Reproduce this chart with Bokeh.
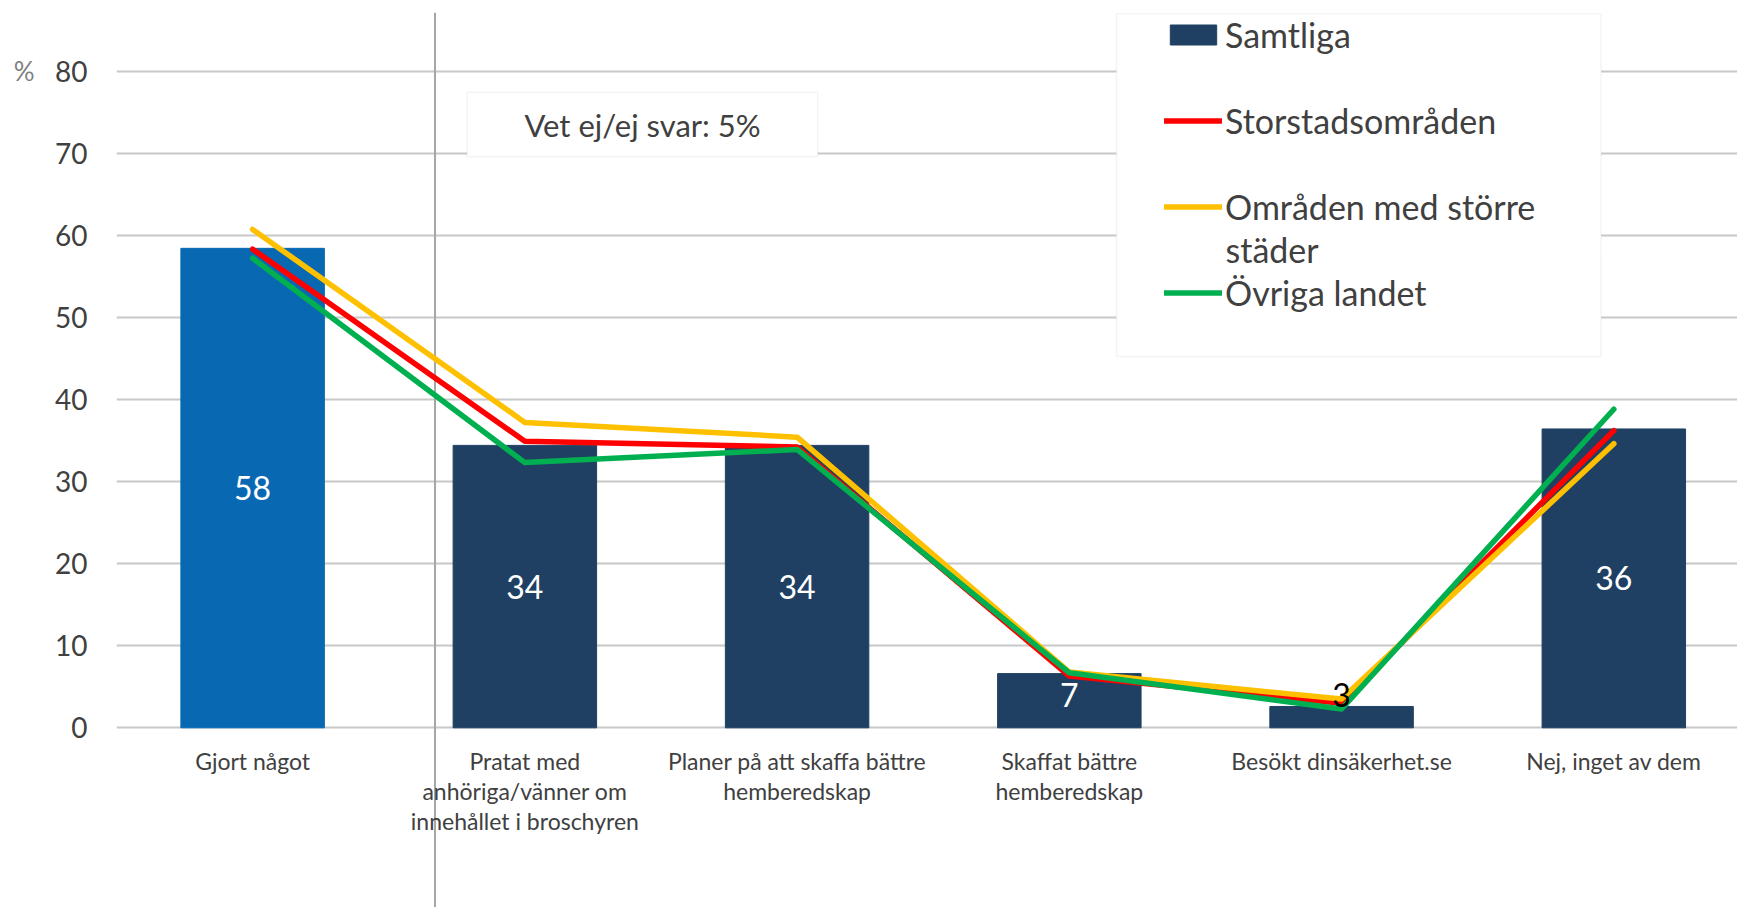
import numpy as np
from bokeh.plotting import figure
from bokeh.models import (Range1d, FixedTicker, Legend, LegendItem, Label, LinearAxis,
                          BoxAnnotation, ColumnDataSource, LabelSet)
from bokeh.core.properties import value
from bokeh.embed import file_html
from bokeh.resources import INLINE

# ---------------- data ----------------
categories = ["Gjort något",
              "Pratat med\nanhöriga/vänner om\ninnehållet i broschyren",
              "Planer på att skaffa bättre\nhemberedskap",
              "Skaffat bättre\nhemberedskap",
              "Besökt dinsäkerhet.se",
              "Nej, inget av dem"]
samtliga = [58.4, 34.4, 34.4, 6.6, 2.6, 36.4]
storstad = [58.3, 34.9, 34.2, 6.3, 3.0, 36.2]
omraden = [60.7, 37.2, 35.4, 6.8, 3.5, 34.6]
ovriga = [57.2, 32.3, 33.9, 6.7, 2.3, 38.8]
y_ticks = [0, 10, 20, 30, 40, 50, 60, 70, 80]
series_names = ["Samtliga", "Storstadsområden", "Områden med större\nstäder", "Övriga landet"]
note_text = "Vet ej/ej svar: 5%"
unit_label = "%"

# ---------------- layout helpers ----------------
W, H = 1737, 907
FRAME_LEFT = 116
PITCH = 272.24          # px per category
PX_PER_UNIT = 8.21      # px per percent
Y0 = 727.3              # page-y of value 0

def px_x(ref_x):
    return -0.5 + (ref_x - FRAME_LEFT) / PITCH

def px_y(ref_y):
    return (Y0 - ref_y) / PX_PER_UNIT

FONT = "Lato"
TXT = "#404040"

idx = list(range(len(categories)))
x_end = -0.5 + (W - FRAME_LEFT) / PITCH
y_end = Y0 / PX_PER_UNIT
y_start = (Y0 - H) / PX_PER_UNIT

p = figure(width=W, height=H, output_backend="svg", toolbar_location=None,
           x_range=Range1d(-0.5, x_end), y_range=Range1d(y_start, y_end),
           min_border_left=FRAME_LEFT, min_border_right=0, min_border_top=0,
           min_border_bottom=0)
p.outline_line_color = None
p.background_fill_color = "white"

# divider line
p.segment(x0=[0.67], y0=[px_y(12.3)], x1=[0.67], y1=[y_start], line_color="#A6A6A6",
          line_width=2)

bar_colors = ["#0868B2"] + ["#1F4063"] * (len(categories) - 1)
src = ColumnDataSource(dict(x=idx, top=samtliga, color=bar_colors))
bars = p.vbar(x="x", top="top", width=0.527, color="color", source=src)

LW = 5.5
r1 = p.line(idx, storstad, line_color="#FF0000", line_width=LW, line_cap="round", line_join="round")
r2 = p.line(idx, omraden, line_color="#FFC000", line_width=LW, line_cap="round", line_join="round")
r3 = p.line(idx, ovriga, line_color="#00B050", line_width=LW, line_cap="round", line_join="round")

# data labels
lab_y = list(np.maximum(np.array(samtliga) / 2, 4.0))
lab_txt = [f"{v:.0f}" for v in samtliga]
lab_col = ["white", "white", "white", "white", "black", "white"]
lsrc = ColumnDataSource(dict(x=idx, y=lab_y, text=lab_txt, color=lab_col))
p.add_layout(LabelSet(x="x", y="y", text="text", source=lsrc, text_color="color",
                      text_font=value(FONT), text_font_size="32px", text_align="center",
                      text_baseline="middle"))

# axes
p.xaxis.ticker = FixedTicker(ticks=idx)
p.xaxis.major_label_overrides = {i: c for i, c in enumerate(categories)}
p.xaxis.fixed_location = 0
p.xaxis.axis_line_color = None
p.xaxis.major_tick_line_color = None
p.xaxis.minor_tick_line_color = None
p.xaxis.major_label_text_font = FONT
p.xaxis.major_label_text_font_size = "23px"
p.xaxis.major_label_text_color = TXT
p.xaxis.major_label_text_line_height = 1.08
p.xaxis.major_label_standoff = 13

p.yaxis.ticker = FixedTicker(ticks=y_ticks)
p.yaxis.axis_line_color = None
p.yaxis.major_tick_line_color = None
p.yaxis.minor_tick_line_color = None
p.yaxis.major_tick_out = 0
p.yaxis.major_label_standoff = 29
p.yaxis.major_label_text_font = FONT
p.yaxis.major_label_text_font_size = "28px"
p.yaxis.major_label_text_color = TXT

# "%" unit marker as an outer left axis with a single tick at the top value
pct_axis = LinearAxis(ticker=FixedTicker(ticks=[y_ticks[-1]]),
                      major_label_overrides={y_ticks[-1]: unit_label},
                      axis_line_color=None, major_tick_line_color=None,
                      minor_tick_line_color=None, major_tick_out=0, major_tick_in=0,
                      major_label_standoff=18, major_label_text_font=FONT,
                      major_label_text_font_size="26px", major_label_text_color="#7F7F7F")
p.add_layout(pct_axis, "left")

p.xgrid.visible = False
p.ygrid.grid_line_color = "#C8C8C8"
p.ygrid.grid_line_width = 2

# note box
p.add_layout(BoxAnnotation(left=px_x(466.7), right=px_x(817.3), top=px_y(91.7), bottom=px_y(156),
                           fill_color="white", fill_alpha=1, line_color="#D9D9D9", line_width=1.5))
p.add_layout(Label(x=px_x(642), y=px_y(124.5), text=note_text, text_align="center",
                   text_baseline="middle", text_font=FONT, text_font_size="31px", text_color=TXT))

# legend box
p.add_layout(BoxAnnotation(left=px_x(1116), right=px_x(1600.5), top=px_y(13.3), bottom=px_y(356),
                           fill_color="white", fill_alpha=1, line_color="#D9D9D9", line_width=1.5))

first_line = [s.split("\n")[0] for s in series_names]
items = [LegendItem(label=first_line[0], renderers=[bars], index=1),
         LegendItem(label=first_line[1], renderers=[r1]),
         LegendItem(label=first_line[2], renderers=[r2]),
         LegendItem(label=first_line[3], renderers=[r3])]
LH = 43
leg_top = 34.3 - LH / 2
leg_height = 4 * LH + 3 * LH
legend = Legend(items=items, location=(1164 - FRAME_LEFT, H - leg_top - leg_height),
                label_text_font=FONT, label_text_font_size="34px", label_text_color=TXT,
                glyph_width=58, glyph_height=25, label_height=LH, spacing=LH,
                padding=0, margin=0, border_line_color=None, background_fill_alpha=0,
                label_standoff=3)
p.add_layout(legend)
p.add_layout(Label(x=px_x(1225), y=px_y(249), text=series_names[2].split("\n")[1],
                   text_align="left", text_baseline="middle", text_font=FONT,
                   text_font_size="34px", text_color=TXT))

open("out.html", "w").write(file_html(p, INLINE))
